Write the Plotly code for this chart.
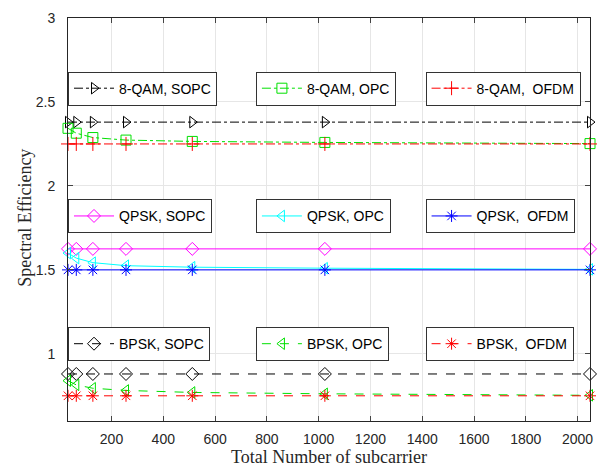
import plotly.graph_objects as go

subcarriers = [32, 64, 128, 256, 512, 1024, 2048]

qam8_sopc = [2.38, 2.38, 2.38, 2.38, 2.38, 2.38, 2.38]
qam8_opc = [2.343, 2.314, 2.288, 2.273, 2.265, 2.259, 2.252]
qam8_ofdm = [2.25, 2.25, 2.25, 2.25, 2.25, 2.25, 2.25]

qpsk_sopc = [1.625, 1.625, 1.625, 1.625, 1.625, 1.625, 1.625]
qpsk_opc = [1.6, 1.57, 1.543, 1.525, 1.516, 1.51, 1.503]
qpsk_ofdm = [1.5, 1.5, 1.5, 1.5, 1.5, 1.5, 1.5]

bpsk_sopc = [0.88, 0.88, 0.88, 0.88, 0.88, 0.88, 0.88]
bpsk_opc = [0.84, 0.815, 0.795, 0.782, 0.77, 0.762, 0.753]
bpsk_ofdm = [0.75, 0.75, 0.75, 0.75, 0.75, 0.75, 0.75]

x_ticks = [200, 400, 600, 800, 1000, 1200, 1400, 1600, 1800, 2000]
y_ticks = [1, 1.5, 2, 2.5, 3]

series = [
    ("8-QAM, SOPC", qam8_sopc, "black", "dashdot", "triangle-right-open"),
    ("8-QAM, OPC", qam8_opc, "#00e000", "dashdot", "square-open"),
    ("8-QAM,  OFDM", qam8_ofdm, "red", "dashdot", "cross-thin-open"),
    ("QPSK, SOPC", qpsk_sopc, "magenta", "solid", "diamond-open"),
    ("QPSK, OPC", qpsk_opc, "cyan", "solid", "triangle-left-open"),
    ("QPSK,  OFDM", qpsk_ofdm, "blue", "solid", "asterisk-open"),
    ("BPSK, SOPC", bpsk_sopc, "black", "dash", "diamond-open"),
    ("BPSK, OPC", bpsk_opc, "#00e000", "dash", "triangle-left-open"),
    ("BPSK,  OFDM", bpsk_ofdm, "red", "dash", "asterisk-open"),
]

fig = go.Figure()
for i, (name, vals, color, dash, sym) in enumerate(series):
    lg = "legend" if i == 0 else f"legend{i+1}"
    fig.add_trace(go.Scatter(
        x=subcarriers, y=vals, name=name, mode="lines+markers",
        line=dict(color=color, width=1, dash=dash),
        marker=dict(symbol=sym, size=10, color=color, line=dict(color=color, width=1)),
        legend=lg, cliponaxis=False,
    ))

lx = [0.0, 0.36, 0.685]
ly = [0.867, 0.55, 0.233]
legend_cfg = {}
for i in range(9):
    key = "legend" if i == 0 else f"legend{i+1}"
    legend_cfg[key] = dict(
        x=lx[i % 3], y=ly[i // 3], xanchor="left", yanchor="top",
        xref="paper", yref="paper",
        bgcolor="white", bordercolor="#333333", borderwidth=1,
        font=dict(family="Liberation Sans, Arial", size=14, color="black"),
        itemwidth=40,
    )

fig.update_layout(
    width=603, height=473,
    margin=dict(l=68, r=10, t=15, b=48),
    plot_bgcolor="white", paper_bgcolor="white",
    showlegend=True,
    font=dict(family="Liberation Sans, Arial", size=13, color="#262626"),
    xaxis=dict(
        range=[32, 2048], tickvals=x_ticks, ticks="inside", ticklen=5,
        showline=True, linecolor="#262626", linewidth=1, mirror="ticks",
        showgrid=True, gridcolor="#e6e6e6", zeroline=False,
        ticklabelstandoff=5,
        title=dict(text="Total Number of subcarrier",
                   font=dict(family="Liberation Serif, DejaVu Serif", size=18, color="#262626"),
                   standoff=4),
        tickfont=dict(size=14, color="#262626"),
    ),
    yaxis=dict(
        range=[0.6, 3], tickvals=y_ticks, ticktext=["1", "1.5", "2", "2.5", "3"],
        ticks="inside", ticklen=5,
        showline=True, linecolor="#262626", linewidth=1, mirror="ticks",
        showgrid=True, gridcolor="#e6e6e6", zeroline=False,
        ticklabelstandoff=9,
        tickfont=dict(size=14, color="#262626"),
    ),
    annotations=[dict(
        text="Spectral Efficiency", textangle=-90,
        xref="paper", yref="paper", x=(25 - 68) / 525, y=0.505,
        xanchor="center", yanchor="middle", showarrow=False,
        font=dict(family="Liberation Serif, DejaVu Serif", size=18, color="#262626"),
    )],
    **legend_cfg,
)

fig.write_html("out.html", config={"displayModeBar": False},
               post_script="document.body.style.margin='0';document.body.style.overflow='hidden';")
